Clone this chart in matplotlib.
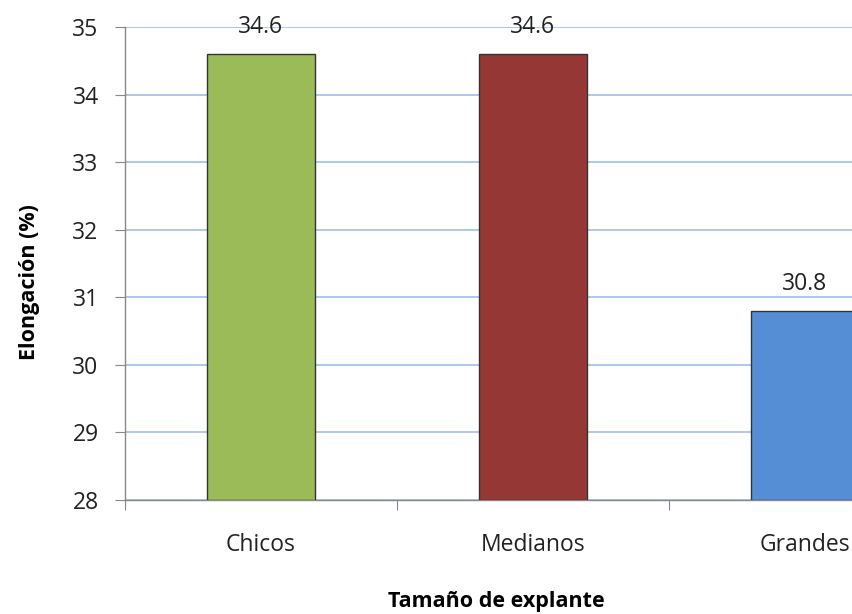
import matplotlib.pyplot as plt

plt.rcParams['font.family'] = ['Open Sans', 'DejaVu Sans']

# Elongation by explant size
categories = ['Chicos', 'Medianos', 'Grandes']
elongacion = [34.6, 34.6, 30.8]
colores = ['#9BBB59', '#953735', '#558ED5']

fig = plt.figure(figsize=(8.53, 6.14), dpi=100)
# plot area runs past the right edge of the figure
ax = fig.add_axes([125 / 853, 114 / 614, 816 / 853, 473 / 614])

x = range(len(categories))
ax.bar(x, [v - 28 for v in elongacion], bottom=28, width=0.4, color=colores,
       edgecolor='#333333', linewidth=1.0, zorder=3)

for xi, v in zip(x, elongacion):
    ax.text(xi, v + 0.4, f'{v:.1f}', ha='center', va='center', fontsize=16.5,
            color='#222222', zorder=4)

ax.set_xlim(-0.5, 2.5)
ax.set_ylim(28, 35)
ax.set_yticks(range(28, 36))
ax.set_xticks([-0.5, 0.5, 1.5], minor=False)
ax.set_xticklabels([])
ax.set_xticks(list(x), minor=True)
ax.set_xticklabels(categories, minor=True)
ax.tick_params(axis='x', which='major', length=7, color='#888888')
ax.tick_params(axis='x', which='minor', length=0, pad=24, labelsize=16.5,
               labelcolor='#222222')
ax.tick_params(axis='y', length=7, color='#888888', labelsize=16.5,
               labelcolor='#222222', pad=12)

ax.grid(axis='y', color='#9DBFEA', linewidth=1.2, zorder=0)
for side in ['top', 'right']:
    ax.spines[side].set_visible(False)
for side in ['left', 'bottom']:
    ax.spines[side].set_color('#888888')
    ax.spines[side].set_linewidth(1.0)

fig.text(30 / 853, 1 - 282 / 614, 'Elongación (%)', rotation=90, ha='center',
         va='center', fontsize=15.5, fontweight='bold')
fig.text(496 / 853, 1 - 601 / 614, 'Tamaño de explante', ha='center',
         va='center', fontsize=15.5, fontweight='bold')

fig.savefig('out.png', dpi=100)
